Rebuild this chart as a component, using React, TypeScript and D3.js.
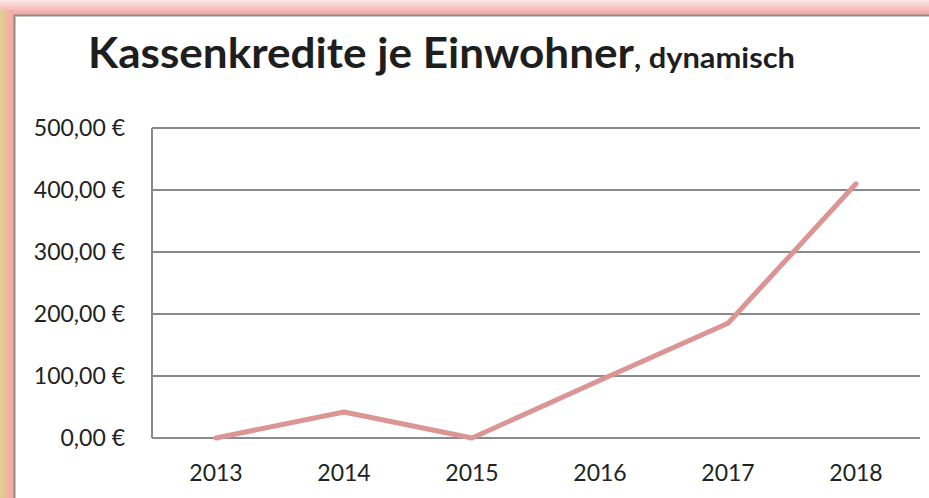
import React, { useEffect, useRef } from 'react';
import * as d3 from 'd3';

const years = ['2013', '2014', '2015', '2016', '2017', '2018'];
const kassenkredite = [0, 42, 0, 93, 185, 410];
const yTicks = [0, 100, 200, 300, 400, 500];

const fmt = (v: number) => v.toFixed(2).replace('.', ',') + ' €';

const App = () => {
  const svgRef = useRef<SVGSVGElement>(null);

  useEffect(() => {
    const width = 929;
    const height = 498;
    const margin = { top: 128, right: 9, bottom: 60, left: 152 };

    const svg = d3.select(svgRef.current)
      .attr('width', width)
      .attr('height', height);
    svg.selectAll('*').remove();

    const defs = svg.append('defs');
    const topGrad = defs.append('linearGradient')
      .attr('id', 'topGrad').attr('x1', 0).attr('y1', 0).attr('x2', 0).attr('y2', 1);
    topGrad.append('stop').attr('offset', '0%').attr('stop-color', '#fce6e6');
    topGrad.append('stop').attr('offset', '100%').attr('stop-color', '#f4a3a3');
    const leftGrad = defs.append('linearGradient')
      .attr('id', 'leftGrad').attr('x1', 0).attr('y1', 0).attr('x2', 1).attr('y2', 0);
    leftGrad.append('stop').attr('offset', '0%').attr('stop-color', '#ddd290');
    leftGrad.append('stop').attr('offset', '45%').attr('stop-color', '#efb9a0');
    leftGrad.append('stop').attr('offset', '100%').attr('stop-color', '#f4a7a3');

    // frame
    svg.append('rect').attr('width', width).attr('height', height).attr('fill', '#fff');
    svg.append('rect').attr('x', 0).attr('y', 0).attr('width', width).attr('height', 15)
      .attr('fill', 'url(#topGrad)');
    svg.append('rect').attr('x', 0).attr('y', 10).attr('width', 14).attr('height', height - 10)
      .attr('fill', 'url(#leftGrad)');
    svg.append('line').attr('x1', 14).attr('x2', width).attr('y1', 15.5).attr('y2', 15.5)
      .attr('stroke', '#8c8c8c').attr('stroke-width', 2);
    svg.append('line').attr('x1', 14.5).attr('x2', 14.5).attr('y1', 15).attr('y2', height)
      .attr('stroke', '#8c8c8c').attr('stroke-width', 2);

    // title
    const title = svg.append('text')
      .attr('x', 88).attr('y', 68)
      .attr('font-family', 'Lato, sans-serif')
      .attr('font-weight', 'bold')
      .attr('fill', '#1e1e1e');
    title.append('tspan').attr('font-size', 42)
      .attr('textLength', 546).attr('lengthAdjust', 'spacingAndGlyphs')
      .text('Kassenkredite je Einwohner');
    title.append('tspan').attr('font-size', 28)
      .attr('textLength', 161).attr('lengthAdjust', 'spacingAndGlyphs')
      .text(', dynamisch');

    const x = d3.scaleBand()
      .domain(years)
      .range([margin.left, width - margin.right]);

    const y = d3.scaleLinear()
      .domain([0, 500])
      .range([height - margin.bottom, margin.top]);

    // gridlines
    svg.append('g')
      .selectAll('line')
      .data(yTicks)
      .join('line')
      .attr('x1', margin.left)
      .attr('x2', width - margin.right)
      .attr('y1', d => y(d))
      .attr('y2', d => y(d))
      .attr('stroke', '#8a8a8a')
      .attr('stroke-width', 2);

    svg.append('line')
      .attr('x1', margin.left).attr('x2', margin.left)
      .attr('y1', y(500)).attr('y2', y(0))
      .attr('stroke', '#8a8a8a').attr('stroke-width', 2);

    // y labels
    svg.append('g')
      .selectAll('text')
      .data(yTicks)
      .join('text')
      .attr('x', 125)
      .attr('y', d => y(d) + 8)
      .attr('text-anchor', 'end')
      .attr('font-family', 'Lato, sans-serif')
      .attr('font-size', 23)
      .attr('fill', '#222')
      .text(d => fmt(d));

    // x labels
    svg.append('g')
      .selectAll('text')
      .data(years)
      .join('text')
      .attr('x', d => (x(d) ?? 0) + x.bandwidth() / 2)
      .attr('y', 481)
      .attr('text-anchor', 'middle')
      .attr('font-family', 'Lato, sans-serif')
      .attr('font-size', 23)
      .attr('fill', '#222')
      .text(d => d);

    const line = d3.line<number>()
      .x((_, i) => (x(years[i]) ?? 0) + x.bandwidth() / 2)
      .y(d => y(d));

    svg.append('path')
      .datum(kassenkredite)
      .attr('d', line)
      .attr('fill', 'none')
      .attr('stroke', '#db9595')
      .attr('stroke-width', 5)
      .attr('stroke-linecap', 'round')
      .attr('stroke-linejoin', 'round');
  }, []);

  return <svg ref={svgRef} style={{ position: 'absolute', left: 0, top: 0 }}></svg>;
};

export default App;
